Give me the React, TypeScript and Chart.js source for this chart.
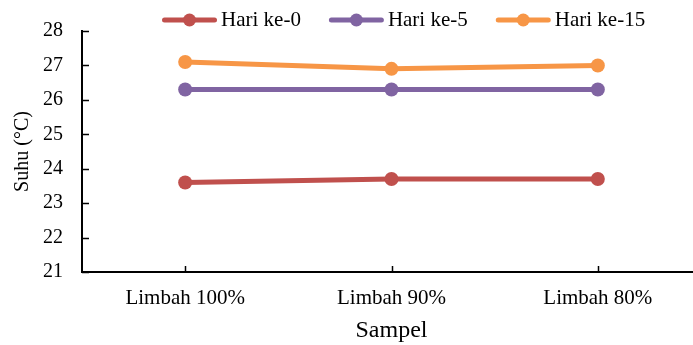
import React, { useEffect, useRef } from "react";
import { Chart, registerables } from "chart.js";

Chart.register(...registerables);

// Sample categories and temperature readings (°C)
const categories = ["Limbah 100%", "Limbah 90%", "Limbah 80%"];
const hari0 = [23.6, 23.7, 23.7];
const hari5 = [26.3, 26.3, 26.3];
const hari15 = [27.1, 26.9, 27.0];
const seriesNames = ["Hari ke-0", "Hari ke-5", "Hari ke-15"];
const seriesColors = ["#C0504D", "#8064A2", "#F79646"];
const yMin = 21;
const yMax = 28;
const yStep = 1;

const FONT = "'Liberation Serif', 'Times New Roman', serif";

// Short tick marks drawn on the inner side of both axes
const innerTicks = {
  id: "innerTicks",
  afterDraw(chart: any) {
    const { ctx, chartArea, scales } = chart;
    const x = scales.x;
    const y = scales.y;
    ctx.save();
    ctx.strokeStyle = "#000";
    ctx.lineWidth = 1.5;
    ctx.beginPath();
    y.ticks.forEach((t: any) => {
      const py = Math.round(y.getPixelForValue(t.value)) + 0.5;
      ctx.moveTo(chartArea.left, py);
      ctx.lineTo(chartArea.left + 7, py);
    });
    x.ticks.forEach((_t: any, i: number) => {
      const px = Math.round(x.getPixelForTick(i)) + 0.5;
      ctx.moveTo(px, chartArea.bottom);
      ctx.lineTo(px, chartArea.bottom - 6);
    });
    ctx.stroke();
    ctx.restore();
  },
};

// Legend with a line-and-marker swatch for each series
const lineLegend = {
  id: "lineLegend",
  afterDraw(chart: any, _args: any, opts: any) {
    const { ctx } = chart;
    ctx.save();
    ctx.font = `${opts.fontSize}px ${FONT}`;
    ctx.textBaseline = "middle";
    ctx.textAlign = "left";
    let x = opts.x;
    const y = opts.y;
    chart.data.datasets.forEach((ds: any) => {
      const c = ds.borderColor;
      ctx.strokeStyle = c;
      ctx.lineWidth = 5;
      ctx.lineCap = "round";
      ctx.beginPath();
      ctx.moveTo(x + 2.5, y);
      ctx.lineTo(x + opts.lineLen - 2.5, y);
      ctx.stroke();
      ctx.fillStyle = c;
      ctx.beginPath();
      ctx.arc(x + opts.lineLen / 2, y, 6.5, 0, Math.PI * 2);
      ctx.fill();
      ctx.fillStyle = "#000";
      const tx = x + opts.lineLen + opts.textGap;
      ctx.fillText(ds.label, tx, y);
      x = tx + ctx.measureText(ds.label).width + opts.itemGap;
    });
    ctx.restore();
  },
};

export default function App() {
  const canvasRef = useRef<HTMLCanvasElement | null>(null);

  useEffect(() => {
    if (!canvasRef.current) return;
    const series = [hari0, hari5, hari15];
    const chart = new Chart(canvasRef.current, {
      type: "line",
      data: {
        labels: categories,
        datasets: series.map((values, i) => ({
          label: seriesNames[i],
          data: values,
          borderColor: seriesColors[i],
          backgroundColor: seriesColors[i],
          pointBackgroundColor: seriesColors[i],
          pointBorderColor: seriesColors[i],
          borderWidth: 5,
          pointRadius: 7,
          pointBorderWidth: 0,
          tension: 0,
          fill: false,
        })),
      },
      options: {
        responsive: false,
        animation: false,
        devicePixelRatio: 1,
        layout: { padding: { top: 29, right: 2, bottom: 0, left: 0 } },
        plugins: {
          legend: { display: false },
          tooltip: { enabled: false },
          lineLegend: { x: 162, y: 20, lineLen: 55, textGap: 4, itemGap: 28, fontSize: 21 },
        } as any,
        scales: {
          x: {
            type: "category",
            offset: true,
            grid: { display: false, drawTicks: false },
            border: { display: true, color: "#000", width: 2 },
            ticks: {
              color: "#000",
              font: { family: FONT, size: 21 },
              padding: 14,
              maxRotation: 0,
              autoSkip: false,
            },
            title: {
              display: true,
              text: "Sampel",
              color: "#000",
              font: { family: FONT, size: 24 },
              padding: { top: 0, bottom: 0 },
            },
            afterFit(scale: any) {
              scale.height = 73;
            },
          },
          y: {
            min: yMin,
            max: yMax,
            grid: { display: false, drawTicks: false },
            border: { display: true, color: "#000", width: 2 },
            ticks: {
              stepSize: yStep,
              color: "#000",
              font: { family: FONT, size: 20 },
              padding: 19,
            },
            title: {
              display: true,
              text: "Suhu (°C)",
              color: "#000",
              font: { family: FONT, size: 20 },
              padding: { top: 11, bottom: 0 },
            },
            afterFit(scale: any) {
              scale.width = 82;
            },
          },
        },
      },
      plugins: [innerTicks, lineLegend],
    });
    return () => chart.destroy();
  }, []);

  return (
    <div
      style={{
        position: "absolute",
        left: 0,
        top: 0,
        width: 693,
        height: 345,
        overflow: "hidden",
        background: "#fff",
      }}
    >
      <canvas ref={canvasRef} width={708} height={345} style={{ display: "block" }} />
    </div>
  );
}
